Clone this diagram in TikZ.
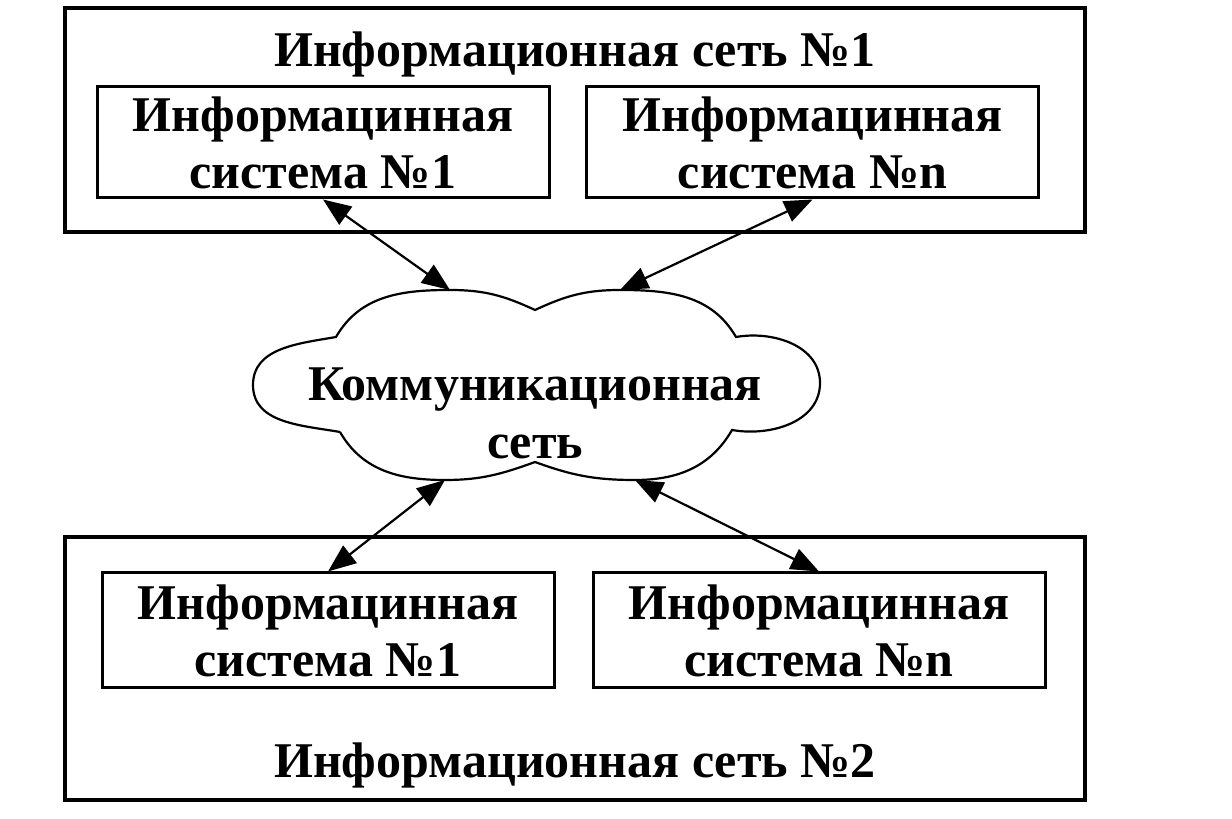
\documentclass[tikz,border=0pt]{standalone}
\usepackage{fontspec}
\setmainfont{Liberation Serif}
\usetikzlibrary{arrows.meta}

\begin{document}
\begin{tikzpicture}[x=0.5pt, y=0.5pt,
  netbox/.style={draw, line width=1.6pt, minimum width=510pt, inner sep=0pt},
  sysbox/.style={draw, line width=1.5pt, minimum width=226pt, align=center, inner sep=0pt, font=\fontsize{25}{28.5}\selectfont\bfseries},
  title/.style={inner sep=0pt, align=center, font=\fontsize{25}{29}\selectfont\bfseries},
  link/.style={line width=1.1pt, {Triangle[length=14pt,width=11pt]}-{Triangle[length=14pt,width=11pt]}}]
\useasboundingbox (0,0) rectangle (1232,819);
% top network
\node[netbox, minimum height=112pt] (net1) at (575,699) {};
\node[title, anchor=base] (title1) at (575,752) {Информационная сеть №1};
\node[sysbox, minimum height=55.5pt] (sys11) at (323,676.5) {Информацинная\\система №1};
\node[sysbox, minimum height=55.5pt] (sysn1) at (812.5,676.5) {Информацинная\\система №n};
% communication network (cloud)
\coordinate (cl) at (253,434);
\coordinate (clt) at (336,482);
\coordinate (ctl) at (450,529);
\coordinate (ct) at (535,509);
\coordinate (ctr) at (620,529);
\coordinate (crt) at (736,482);
\coordinate (cr) at (820,436);
\coordinate (crb) at (732,389);
\coordinate (cbr) at (635,339);
\coordinate (cb) at (535,357);
\coordinate (cbl) at (445,339);
\coordinate (clb) at (340,387);
\draw[line width=1.1pt] (clb) to[out=170,in=270] (cl) to[out=90,in=190] (clt)
  to[out=60,in=180] (ctl) to[out=0,in=155] (ct)
  to[out=25,in=180] (ctr) to[out=0,in=120] (crt)
  to[out=10,in=90] (cr) to[out=270,in=350] (crb)
  to[out=240,in=0] (cbr) to[out=180,in=340] (cb)
  to[out=200,in=0] (cbl) to[out=180,in=300] (clb);
\node[title] (comm) at (535,406) {Коммуникационная\\сеть};
% bottom network
\node[netbox, minimum height=131.5pt] (net2) at (575,150.5) {};
\node[sysbox, minimum height=57.5pt] (sys12) at (328,188.5) {Информацинная\\система №1};
\node[sysbox, minimum height=57.5pt] (sysn2) at (819,188.5) {Информацинная\\система №n};
\node[title, anchor=base] (title2) at (575,41) {Информационная сеть №2};
% links
\draw[link] (sys11.south) -- (ctl);
\draw[link] (sysn1.south) -- (ctr);
\draw[link] (cbl) -- (sys12.north);
\draw[link] (cbr) -- (sysn2.north);
\end{tikzpicture}
\end{document}
